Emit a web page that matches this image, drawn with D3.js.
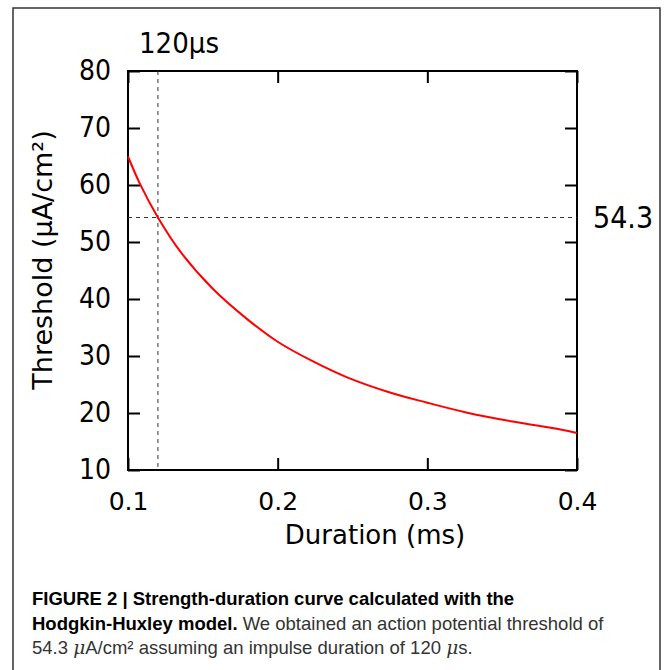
<!DOCTYPE html>
<html>
<head>
<meta charset="utf-8">
<script src="https://cdn.jsdelivr.net/npm/d3@7"></script>
<style>
  body { margin: 0; background: #fff; }
  svg { display: block; }
</style>
</head>
<body>
<svg id="chart" width="671" height="670"></svg>
<script>
// values
const durations = [0.100, 0.108, 0.120, 0.135, 0.157, 0.179, 0.200, 0.224, 0.246, 0.275, 0.300, 0.326, 0.357, 0.389, 0.400];
const thresholds = [65.0, 60.2, 54.3, 48.3, 41.7, 36.6, 32.5, 29.0, 26.3, 23.6, 21.8, 20.1, 18.5, 17.1, 16.5];
const xTicks = [0.1, 0.2, 0.3, 0.4];
const yTicks = [10, 20, 30, 40, 50, 60, 70, 80];
const markDuration = 0.12;
const markThreshold = 54.3;
const captionLines = [
    [{ t: "FIGURE 2 | Strength-duration curve calculated with the", b: true }],
    [{ t: "Hodgkin-Huxley model.", b: true }, { t: " We obtained an action potential threshold of" }],
    [{ t: "54.3 " }, { t: "\u03bc", i: true }, { t: "A/cm\u00b2 assuming an impulse duration of 120 " }, { t: "\u03bc", i: true }, { t: "s." }]
];

const svg = d3.select("#chart");
const plotLeft = 128, plotRight = 577, plotTop = 71, plotBottom = 470;

const x = d3.scaleLinear().domain([0.1, 0.4]).range([plotLeft, plotRight]);
const y = d3.scaleLinear().domain([10, 80]).range([plotBottom, plotTop]);

// outer frame of the figure
svg.append("rect")
    .attr("x", 13).attr("y", 8)
    .attr("width", 647).attr("height", 700)
    .attr("fill", "none")
    .attr("stroke", "#333")
    .attr("stroke-width", 1.5);

const condensed = "'DejaVu Sans Condensed', 'DejaVu Sans', sans-serif";

// axes with inward ticks
const xAxis = svg.append("g")
    .attr("transform", `translate(0,${plotBottom})`)
    .call(d3.axisBottom(x).tickValues(xTicks).tickFormat(d3.format(".1f"))
        .tickSizeInner(-12).tickSizeOuter(0).tickPadding(22));
xAxis.selectAll("text")
    .attr("font-family", "'DejaVu Sans', sans-serif")
    .attr("font-size", 25)
    .attr("fill", "#000");

const yAxis = svg.append("g")
    .attr("transform", `translate(${plotLeft},0)`)
    .call(d3.axisLeft(y).tickValues(yTicks)
        .tickSizeInner(-12).tickSizeOuter(0).tickPadding(17));
yAxis.selectAll("text")
    .attr("font-family", condensed)
    .attr("font-size", 28)
    .attr("fill", "#000");

svg.append("g")
    .attr("transform", `translate(0,${plotTop})`)
    .call(d3.axisTop(x).tickValues(xTicks).tickFormat("")
        .tickSizeInner(-12).tickSizeOuter(0));

svg.append("g")
    .attr("transform", `translate(${plotRight},0)`)
    .call(d3.axisRight(y).tickValues(yTicks).tickFormat("")
        .tickSizeInner(-12).tickSizeOuter(0));

svg.selectAll(".domain").remove();
svg.selectAll(".tick line").attr("stroke", "#000").attr("stroke-width", 2);

svg.append("rect")
    .attr("x", plotLeft).attr("y", plotTop)
    .attr("width", plotRight - plotLeft).attr("height", plotBottom - plotTop)
    .attr("fill", "none")
    .attr("stroke", "#000")
    .attr("stroke-width", 2);

// dashed guide lines
svg.append("line")
    .attr("x1", x(markDuration)).attr("x2", x(markDuration))
    .attr("y1", y(80)).attr("y2", y(10))
    .attr("stroke", "#333").attr("stroke-width", 1)
    .attr("stroke-dasharray", "4,4");

svg.append("line")
    .attr("x1", x(0.1)).attr("x2", x(0.4))
    .attr("y1", y(markThreshold)).attr("y2", y(markThreshold))
    .attr("stroke", "#333").attr("stroke-width", 1)
    .attr("stroke-dasharray", "4,4");

// curve
const line = d3.line()
    .x((d, i) => x(durations[i]))
    .y(d => y(d))
    .curve(d3.curveCatmullRom.alpha(0.5));

svg.append("path")
    .datum(thresholds)
    .attr("d", line)
    .attr("fill", "none")
    .attr("stroke", "#ff0000")
    .attr("stroke-width", 2);

// annotations
svg.append("text")
    .attr("x", 139).attr("y", 53)
    .attr("font-family", condensed)
    .attr("font-size", 29)
    .text("120\u03bcs");

svg.append("text")
    .attr("x", 593).attr("y", y(markThreshold) + 10.5)
    .attr("font-family", condensed)
    .attr("font-size", 30)
    .text("54.3");

// axis titles
svg.append("text")
    .attr("x", 375).attr("y", 544)
    .attr("text-anchor", "middle")
    .attr("font-family", "'DejaVu Sans', sans-serif")
    .attr("font-size", 26)
    .text("Duration (ms)");

svg.append("text")
    .attr("transform", "translate(52,260) rotate(-90)")
    .attr("text-anchor", "middle")
    .attr("font-family", "'DejaVu Sans', sans-serif")
    .attr("font-size", 27)
    .text("Threshold (\u03bcA/cm\u00b2)");

// caption
const caption = svg.append("g")
    .attr("font-family", "'Liberation Sans', Arial, sans-serif")
    .attr("font-size", 18.5);

captionLines.forEach((parts, k) => {
    const t = caption.append("text")
        .attr("x", 32)
        .attr("y", 605 + k * 24.5);
    parts.forEach(p => {
        t.append("tspan")
            .attr("font-weight", p.b ? "bold" : "normal")
            .attr("font-style", p.i ? "italic" : "normal")
            .attr("font-family", p.i ? "'DejaVu Serif', serif" : null)
            .attr("fill", p.b ? "#000" : "#333")
            .text(p.t);
    });
});
</script>
</body>
</html>
